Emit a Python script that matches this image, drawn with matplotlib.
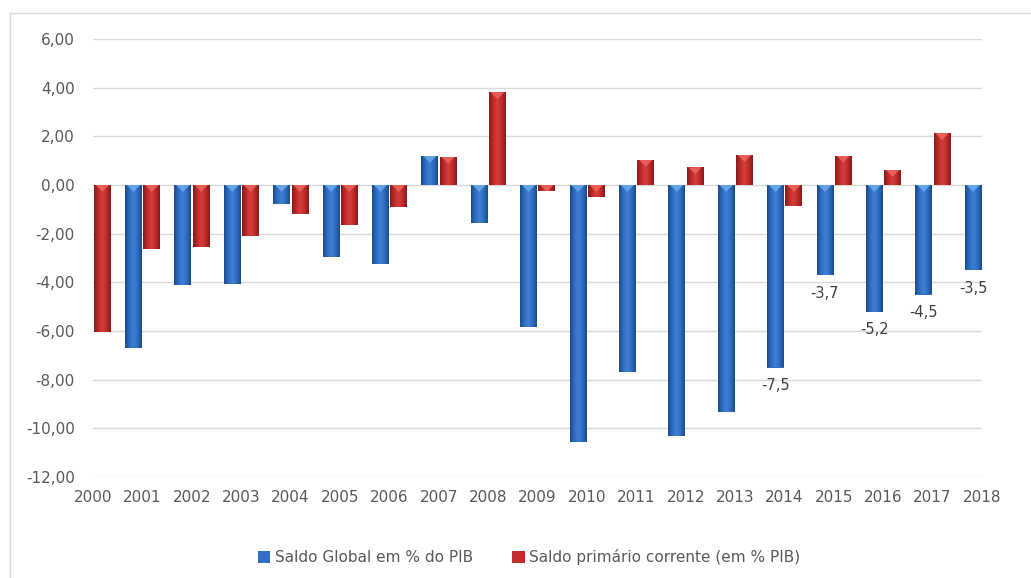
import numpy as np
import matplotlib
matplotlib.use("Agg")
import matplotlib.pyplot as plt
from matplotlib.lines import Line2D
from matplotlib.patches import Polygon, Patch
from matplotlib.colors import LinearSegmentedColormap

plt.rcParams["font.family"] = ["DejaVu Sans"]

# ---------------- data ----------------
years = [str(y) for y in range(2000, 2019)]
saldo_global = [np.nan, -6.7, -4.1, -4.07, -0.8, -2.96, -3.24, 1.2, -1.55, -5.83,
                -10.58, -7.68, -10.31, -9.34, -7.5, -3.7, -5.2, -4.5, -3.5]
saldo_primario = [-6.04, -2.65, -2.56, -2.08, -1.19, -1.65, -0.89, 1.15, 3.81, -0.23,
                  -0.51, 1.03, 0.73, 1.23, -0.85, 1.21, 0.62, 2.13, np.nan]
labeled_years = ["2014", "2015", "2016", "2017", "2018"]
yticks = [6, 4, 2, 0, -2, -4, -6, -8, -10, -12]
legend_labels = ["Saldo Global em % do PIB", "Saldo primário corrente (em % PIB)"]

# ---------------- figure ----------------
W, H = 1031, 578
fig = plt.figure(figsize=(W / 100, H / 100), dpi=100)
fig.patch.set_facecolor("white")
ax = fig.add_axes([93 / W, 1 - 477 / H, (982 - 93) / W, (477 - 39) / H])

x = np.arange(len(years))
bw = 0.34
blue_main, red_main = "#2f6ec3", "#c32d2c"
blue_cmap = LinearSegmentedColormap.from_list("b", ["#1c4a8e", "#2e6cc0", "#3d80d4", "#2e6cc0", "#1c4a8e"])
red_cmap = LinearSegmentedColormap.from_list("r", ["#8a1a1a", "#bd2b2a", "#d63e3c", "#bd2b2a", "#8a1a1a"])

gb = ax.bar(x - 0.18, saldo_global, bw, color=blue_main, zorder=3, linewidth=0)
rb = ax.bar(x + 0.19, saldo_primario, bw, color=red_main, zorder=3, linewidth=0)

grad = np.linspace(0, 1, 64).reshape(1, -1)
for bars, cmap, bevel in ((gb, blue_cmap, "#6fb0f0"), (rb, red_cmap, "#ee6a60")):
    for p in bars:
        h = p.get_height()
        if not np.isfinite(h):
            continue
        x0, w, y0 = p.get_x(), p.get_width(), p.get_y()
        im = ax.imshow(grad, cmap=cmap, aspect="auto", extent=[x0, x0 + w, y0, y0 + h],
                       zorder=3.5, interpolation="bilinear")
        im.set_clip_path(p)
        top = max(y0, y0 + h)
        tri = Polygon([[x0 + 0.1 * w, top], [x0 + 0.9 * w, top], [x0 + w / 2, top - 0.28]],
                      closed=True, facecolor=bevel, edgecolor="none", alpha=0.8, zorder=4)
        ax.add_patch(tri)
        tri.set_clip_path(p)

ax.set_xlim(0, 18)
ax.set_ylim(-12, 6)
ax.set_xticks(x)
ax.set_xticklabels(years)
ax.set_yticks(yticks)
ax.set_yticklabels([f"{v:.2f}".replace(".", ",") for v in yticks])
ax.tick_params(axis="x", length=0, pad=9, labelsize=11, labelcolor="#595959")
ax.tick_params(axis="y", length=0, pad=13, labelsize=11, labelcolor="#595959")
ax.grid(axis="y", color="#d9d9d9", linewidth=1, zorder=0)
ax.set_axisbelow(True)
for s in ax.spines.values():
    s.set_visible(False)

# data labels
for i, yr in enumerate(years):
    if yr in labeled_years:
        v = saldo_global[i]
        ax.annotate(f"{v:.1f}".replace(".", ","), xy=(x[i] - 0.18, v), xytext=(0, -13),
                    textcoords="offset points", ha="center", va="center",
                    fontsize=10.5, color="#404040", zorder=5, annotation_clip=False)

# legend
handles = [Patch(facecolor=blue_main, edgecolor="none"), Patch(facecolor=red_main, edgecolor="none")]
fig.legend(handles, legend_labels, loc="center", bbox_to_anchor=(529 / W, 1 - 557 / H),
           ncol=2, frameon=False, fontsize=11, handlelength=0.8, handleheight=0.8,
           handletextpad=0.3, columnspacing=2.6, labelcolor="#595959")

# chart area border (top and left)
fig.add_artist(Line2D([10 / W, 1], [1 - 13 / H, 1 - 13 / H], color="#d9d9d9", lw=1))
fig.add_artist(Line2D([10 / W, 10 / W], [0, 1 - 13 / H], color="#d9d9d9", lw=1))

fig.savefig("out.png", dpi=100, facecolor="white")
